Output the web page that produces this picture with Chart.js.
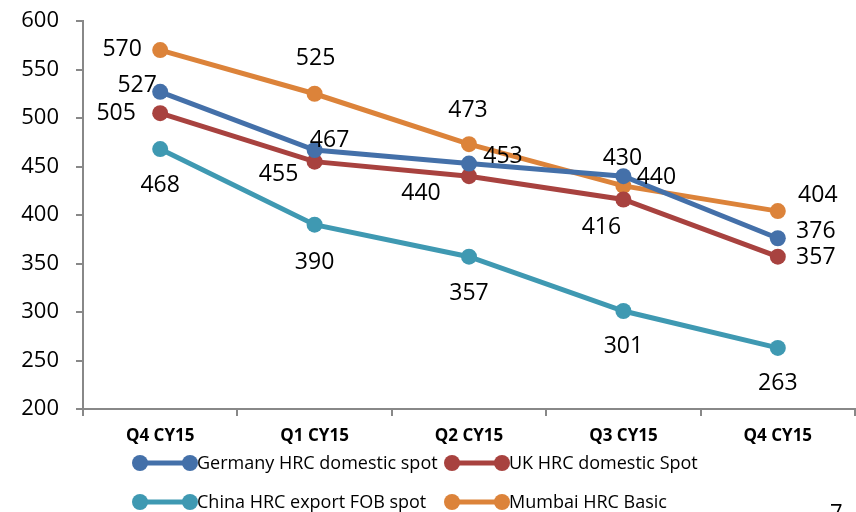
<!DOCTYPE html>
<html>
<head>
<meta charset="utf-8">
<script src="https://cdn.jsdelivr.net/npm/chart.js@4/dist/chart.umd.min.js"></script>
<style>
  html, body { margin: 0; padding: 0; background: #fff; }
  #c { display: block; }
</style>
</head>
<body>
<canvas id="c" width="856" height="512"></canvas>
<script>
/* --- datos --- */
const quarters = ["Q4 CY15", "Q1 CY15", "Q2 CY15", "Q3 CY15", "Q4 CY15"];
const germany = [527, 467, 453, 440, 376];
const uk      = [505, 455, 440, 416, 357];
const china   = [468, 390, 357, 301, 263];
const mumbai  = [570, 525, 473, 430, 404];

const FONT = "'Open Sans', 'Noto Sans', sans-serif";

/* desplazamiento de cada etiqueta respecto al punto [dx, dy] */
const labelOffsets = [
  [[-23, -6], [15, -10], [34, -7], [33, 1], [38, -7]],    // Germany
  [[-44, 0], [-36, 13], [-48, 17], [-22, 28], [38, 1]],   // UK
  [[0, 36], [0, 38], [0, 37], [0, 35], [0, 36]],          // China
  [[-38, -1], [1, -35], [-1, -34], [-1, -27], [40, -16]], // Mumbai
];

/* ── Plugin: etiquetas de valor ── */
const valueLabels = {
  id: "valueLabels",
  afterDatasetsDraw(chart) {
    const { ctx } = chart;
    ctx.save();
    ctx.font = "23px " + FONT;
    ctx.fillStyle = "#000";
    ctx.textAlign = "center";
    ctx.textBaseline = "middle";
    chart.data.datasets.forEach((ds, i) => {
      chart.getDatasetMeta(i).data.forEach((pt, j) => {
        const [dx, dy] = labelOffsets[i][j];
        ctx.fillText(String(ds.data[j]), pt.x + dx, pt.y + dy);
      });
    });
    ctx.restore();
  },
};

/* ── Plugin: leyenda inferior estilo Excel ── */
const bottomLegend = {
  id: "bottomLegend",
  afterDraw(chart) {
    const { ctx } = chart;
    const slots = [
      { x: 140, y: 463 }, { x: 452, y: 463 },
      { x: 140, y: 502 }, { x: 452, y: 502 },
    ];
    ctx.save();
    ctx.font = "18px " + FONT;
    ctx.textBaseline = "middle";
    ctx.textAlign = "left";
    chart.data.datasets.forEach((ds, i) => {
      const s = slots[i];
      ctx.strokeStyle = ds.borderColor;
      ctx.fillStyle = ds.borderColor;
      ctx.lineWidth = 5;
      ctx.beginPath();
      ctx.moveTo(s.x, s.y);
      ctx.lineTo(s.x + 50, s.y);
      ctx.stroke();
      [s.x, s.x + 50].forEach((cx) => {
        ctx.beginPath();
        ctx.arc(cx, s.y, 8, 0, Math.PI * 2);
        ctx.fill();
      });
      ctx.fillStyle = "#000";
      ctx.fillText(ds.label, s.x + 57, s.y + 1);
    });
    // número de página recortado
    ctx.font = "22px " + FONT;
    ctx.textBaseline = "alphabetic";
    ctx.fillText("7", 830, 520);
    ctx.restore();
  },
};

const mk = (label, data, color) => ({
  label,
  data,
  borderColor: color,
  backgroundColor: color,
  pointBackgroundColor: color,
  pointBorderWidth: 0,
  pointRadius: 8,
  borderWidth: 5,
  tension: 0,
  fill: false,
});

new Chart(document.getElementById("c"), {
  type: "line",
  data: {
    labels: quarters,
    datasets: [
      mk("Germany HRC domestic spot", germany, "#4470A9"),
      mk("UK HRC domestic Spot", uk, "#A8423F"),
      mk("China HRC export FOB spot", china, "#3F99B2"),
      mk("Mumbai HRC Basic", mumbai, "#DC833A"),
    ],
  },
  options: {
    responsive: false,
    animation: false,
    layout: {
      autoPadding: false,
      padding: { top: 21, right: 1, left: 0, bottom: 0 },
    },
    plugins: {
      legend: { display: false },
      tooltip: { enabled: false },
    },
    scales: {
      x: {
        offset: true,
        afterFit: (s) => {
          s.height = 103;
          s.paddingLeft = 0;
          s.paddingRight = 0;
        },
        grid: {
          offset: true,
          drawOnChartArea: false,
          tickLength: 7,
          color: "#888",
          lineWidth: 2,
        },
        border: { color: "#888", width: 2 },
        ticks: {
          color: "#000",
          padding: 10,
          font: { family: FONT, size: 17, weight: "bold" },
        },
      },
      y: {
        min: 200,
        max: 600,
        afterFit: (s) => {
          s.width = 83;
          s.paddingTop = 0;
          s.paddingBottom = 0;
        },
        grid: {
          drawOnChartArea: false,
          tickLength: 7,
          color: "#888",
          lineWidth: 2,
        },
        border: { color: "#888", width: 2 },
        ticks: {
          stepSize: 50,
          color: "#000",
          padding: 17,
          font: { family: FONT, size: 22 },
        },
      },
    },
  },
  plugins: [valueLabels, bottomLegend],
});
</script>
</body>
</html>
